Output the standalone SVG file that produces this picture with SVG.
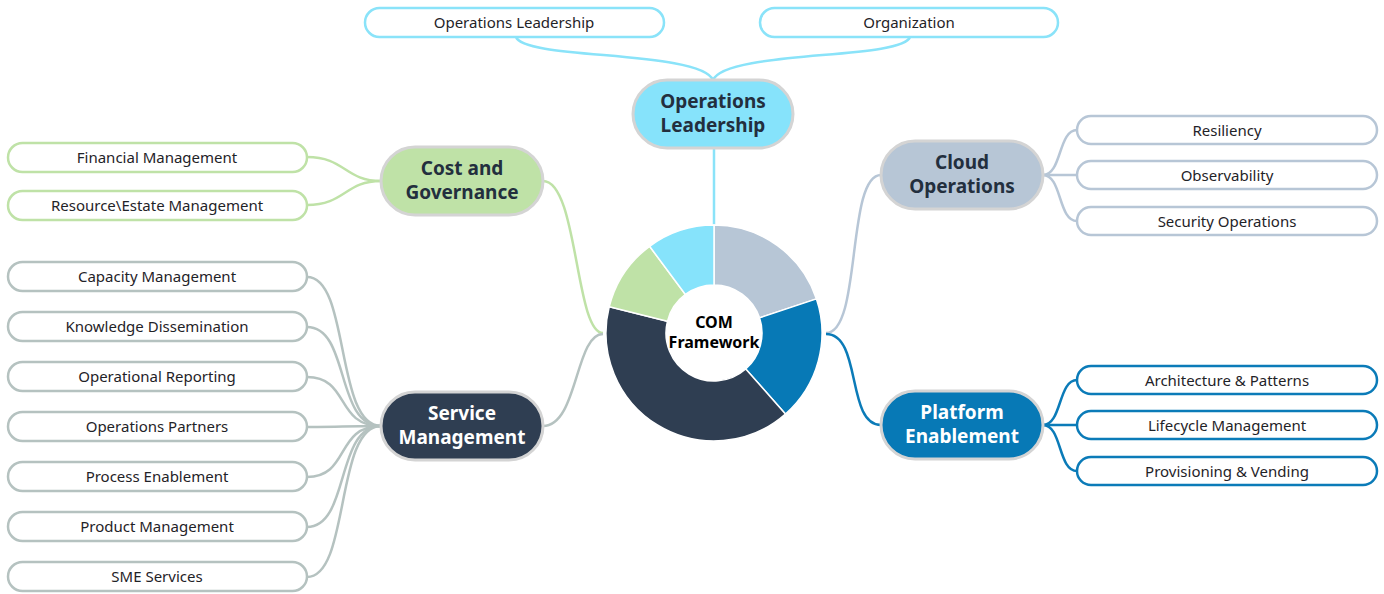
<svg xmlns="http://www.w3.org/2000/svg" width="1384" height="594" viewBox="0 0 1384 594">
<style>
.leaf{fill:#fff;stroke-width:2.5}
.lt{font-family:"Noto Sans","Open Sans",sans-serif;font-size:15px;fill:#1f2328;text-anchor:middle}
.hub{stroke:#d4d4d4;stroke-width:3}
.ht{font-family:"Noto Sans","Open Sans",sans-serif;font-size:19px;font-weight:bold;fill:#232f3e;text-anchor:middle}
.hw{fill:#fff}
.c{fill:none;stroke-width:2.5}
.cy{stroke:#8ae3f9}.gr{stroke:#bfe2a7}.gy{stroke:#b5c2c0}.sl{stroke:#b7c6d6}.bl{stroke:#0b7bb8}
.seg{stroke:#fff;stroke-width:1.5}
</style>
<rect width="1384" height="594" fill="#fff"/>
<g id="connectors">
<path class="c cy" d="M714 148 L714 226"/>
<path class="c cy" d="M516 37 C524 60 700 50 713 80"/>
<path class="c cy" d="M910 37 C902 60 726 50 713 80"/>
<path class="c gr" d="M603 333 C575 333 578 181 543 181"/>
<path class="c gr" d="M307 157 C345 157 345 181 381 181"/>
<path class="c gr" d="M307 205 C345 205 345 181 381 181"/>
<path class="c gy" d="M603 334 C575 334 578 426 543 426"/>
<path class="c gy" d="M307 277 C350 277 335 426 381 426"/>
<path class="c gy" d="M307 327 C350 327 335 426 381 426"/>
<path class="c gy" d="M307 377 C350 377 335 426 381 426"/>
<path class="c gy" d="M307 427 C350 427 335 426 381 426"/>
<path class="c gy" d="M307 477 C350 477 335 426 381 426"/>
<path class="c gy" d="M307 527 C350 527 335 426 381 426"/>
<path class="c gy" d="M307 577 C350 577 335 426 381 426"/>
<path class="c sl" d="M826 333 C862 333 846 175 881 175"/>
<path class="c sl" d="M1043 175 C1062 175 1058 130 1077 130"/>
<path class="c sl" d="M1043 175 L1077 175"/>
<path class="c sl" d="M1043 175 C1062 175 1058 221 1077 221"/>
<path class="c bl" d="M826 334 C862 334 846 425 881 425"/>
<path class="c bl" d="M1043 425 C1062 425 1058 380 1077 380"/>
<path class="c bl" d="M1043 425 L1077 425"/>
<path class="c bl" d="M1043 425 C1062 425 1058 471 1077 471"/>
</g>
<g id="donut">
<path class="seg" fill="#b7c6d6" d="M714 225 A108 108 0 0 1 816.48 298.9 L759.55 317.85 A48 48 0 0 0 714 285 Z"/>
<path class="seg" fill="#0779b6" d="M816.48 298.9 A108 108 0 0 1 785.42 414.01 L745.74 369 A48 48 0 0 0 759.55 317.85 Z"/>
<path class="seg" fill="#2f3e52" d="M785.42 414.01 A108 108 0 0 1 609.25 306.69 L667.44 321.31 A48 48 0 0 0 745.74 369 Z"/>
<path class="seg" fill="#bfe2a7" d="M609.25 306.69 A108 108 0 0 1 649.61 246.3 L685.38 294.47 A48 48 0 0 0 667.44 321.31 Z"/>
<path class="seg" fill="#86e3fb" d="M649.61 246.3 A108 108 0 0 1 714 225 L714 285 A48 48 0 0 0 685.38 294.47 Z"/>
<text class="ht" style="font-size:16px;fill:#000" x="714" y="328">COM</text>
<text class="ht" style="font-size:16px;fill:#000" x="714" y="348">Framework</text>
</g>
<g id="hub-operations-leadership">
<rect class="hub" x="633" y="80" width="160" height="68" rx="34" fill="#86e3fb"/>
<text class="ht" x="713" y="108">Operations</text>
<text class="ht" x="713" y="132">Leadership</text>
</g>
<g id="hub-cost-governance">
<rect class="hub" x="381" y="147" width="162" height="68" rx="34" fill="#bfe2a7"/>
<text class="ht" x="462" y="175">Cost and</text>
<text class="ht" x="462" y="199">Governance</text>
</g>
<g id="hub-service-management">
<rect class="hub" x="381" y="392" width="162" height="68" rx="34" fill="#2f3e52"/>
<text class="ht hw" x="462" y="420">Service</text>
<text class="ht hw" x="462" y="444">Management</text>
</g>
<g id="hub-cloud-operations">
<rect class="hub" x="881" y="141" width="162" height="68" rx="34" fill="#b7c6d6"/>
<text class="ht" x="962" y="169">Cloud</text>
<text class="ht" x="962" y="193">Operations</text>
</g>
<g id="hub-platform-enablement">
<rect class="hub" x="881" y="391" width="162" height="68" rx="34" fill="#0779b6"/>
<text class="ht hw" x="962" y="419">Platform</text>
<text class="ht hw" x="962" y="443">Enablement</text>
</g>
<g id="leaf-operations-leadership"><rect class="leaf cy" x="365" y="8" width="299" height="29" rx="14.5"/><text class="lt" x="514" y="28">Operations Leadership</text></g>
<g id="leaf-organization"><rect class="leaf cy" x="760" y="8" width="298" height="29" rx="14.5"/><text class="lt" x="909" y="28">Organization</text></g>
<g id="leaf-financial-management"><rect class="leaf gr" x="8" y="143" width="299" height="29" rx="14.5"/><text class="lt" x="157" y="163">Financial Management</text></g>
<g id="leaf-resource-estate"><rect class="leaf gr" x="8" y="191" width="299" height="29" rx="14.5"/><text class="lt" x="157" y="211">Resource\Estate Management</text></g>
<g id="leaf-capacity"><rect class="leaf gy" x="8" y="262" width="299" height="29" rx="14.5"/><text class="lt" x="157" y="282">Capacity Management</text></g>
<g id="leaf-knowledge"><rect class="leaf gy" x="8" y="312" width="299" height="29" rx="14.5"/><text class="lt" x="157" y="332">Knowledge Dissemination</text></g>
<g id="leaf-operational-reporting"><rect class="leaf gy" x="8" y="362" width="299" height="29" rx="14.5"/><text class="lt" x="157" y="382">Operational Reporting</text></g>
<g id="leaf-operations-partners"><rect class="leaf gy" x="8" y="412" width="299" height="29" rx="14.5"/><text class="lt" x="157" y="432">Operations Partners</text></g>
<g id="leaf-process-enablement"><rect class="leaf gy" x="8" y="462" width="299" height="29" rx="14.5"/><text class="lt" x="157" y="482">Process Enablement</text></g>
<g id="leaf-product-management"><rect class="leaf gy" x="8" y="512" width="299" height="29" rx="14.5"/><text class="lt" x="157" y="532">Product Management</text></g>
<g id="leaf-sme-services"><rect class="leaf gy" x="8" y="562" width="299" height="29" rx="14.5"/><text class="lt" x="157" y="582">SME Services</text></g>
<g id="leaf-resiliency"><rect class="leaf sl" x="1077" y="116" width="300" height="28" rx="14"/><text class="lt" x="1227" y="135.5">Resiliency</text></g>
<g id="leaf-observability"><rect class="leaf sl" x="1077" y="161" width="300" height="28" rx="14"/><text class="lt" x="1227" y="180.5">Observability</text></g>
<g id="leaf-security-operations"><rect class="leaf sl" x="1077" y="207" width="300" height="28" rx="14"/><text class="lt" x="1227" y="226.5">Security Operations</text></g>
<g id="leaf-architecture"><rect class="leaf bl" x="1077" y="366" width="300" height="28" rx="14"/><text class="lt" x="1227" y="385.5">Architecture &amp; Patterns</text></g>
<g id="leaf-lifecycle"><rect class="leaf bl" x="1077" y="411" width="300" height="28" rx="14"/><text class="lt" x="1227" y="430.5">Lifecycle Management</text></g>
<g id="leaf-provisioning"><rect class="leaf bl" x="1077" y="457" width="300" height="28" rx="14"/><text class="lt" x="1227" y="476.5">Provisioning &amp; Vending</text></g>
</svg>
